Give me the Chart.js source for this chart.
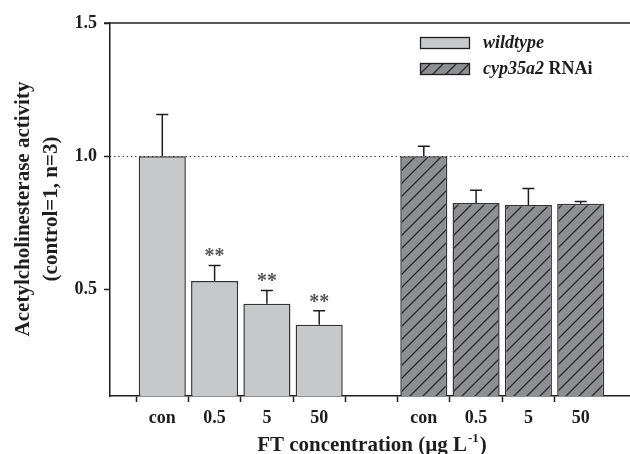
<!DOCTYPE html>
<html>
<head>
<meta charset="utf-8">
<script src="https://cdn.jsdelivr.net/npm/chart.js@4"></script>
<style>
html, body { margin: 0; padding: 0; overflow: hidden; background: #fff; }
canvas { display: block; }
</style>
</head>
<body>
<canvas id="chart" width="640" height="454"></canvas>
<script>
const doseLabels = ["con", "0.5", "5", "50"];
const wildtypeValues = [1.0, 0.532, 0.446, 0.367];
const wildtypeErrors = [0.157, 0.058, 0.050, 0.053];
const rnaiValues = [1.0, 0.824, 0.817, 0.822];
const rnaiErrors = [0.037, 0.048, 0.062, 0.008];
const wildtypeStars = ["", "**", "**", "**"];
const yTicks = [0.5, 1.0, 1.5];

const SERIF = "'Liberation Serif', 'Times New Roman', serif";
const INK = "#1e1e1e";

// slots: empty edge | wildtype group | gap | rnai group | empty edge
const labels = ["", ...doseLabels, "", ...doseLabels, ""];
const blank4 = [null, null, null, null];
const wildtypeData = [null, ...wildtypeValues, null, ...blank4, null];
const rnaiData = [null, ...blank4, null, ...rnaiValues, null];
const wildtypeErr = [null, ...wildtypeErrors, null, ...blank4, null];
const rnaiErr = [null, ...blank4, null, ...rnaiErrors, null];
const starData = [null, ...wildtypeStars, null, ...blank4, null];

function hatch(bg, line, size) {
    let c = document.createElement("canvas");
    c.width = size; c.height = size;
    let g = c.getContext("2d");
    g.fillStyle = bg;
    g.fillRect(0, 0, size, size);
    g.strokeStyle = line;
    g.lineWidth = 1.3;
    g.beginPath();
    g.moveTo(-1, size + 1); g.lineTo(size + 1, -1);
    g.moveTo(-2, 2); g.lineTo(2, -2);
    g.moveTo(size - 2, size + 2); g.lineTo(size + 2, size - 2);
    g.stroke();
    return g.createPattern(c, "repeat");
}

const wildFill = "#c7c8ca";
const rnaiFill = hatch("#8e8f92", "#2a2a2a", 13);

const extras = {
    id: "extras",
    beforeDatasetsDraw(chart) {
        const { ctx, chartArea, scales } = chart;
        let y = Math.round(scales.y.getPixelForValue(1.0)) + 0.5;
        ctx.save();
        ctx.setLineDash([1.2, 3]);
        ctx.strokeStyle = INK;
        ctx.lineWidth = 1.2;
        ctx.beginPath();
        ctx.moveTo(chartArea.left, y);
        ctx.lineTo(chartArea.right, y);
        ctx.stroke();
        ctx.restore();
    },
    afterDatasetsDraw(chart) {
        const { ctx, scales } = chart;
        ctx.save();
        ctx.strokeStyle = INK;
        ctx.lineWidth = 1.5;
        chart.data.datasets.forEach((ds, d) => {
            let meta = chart.getDatasetMeta(d);
            ds.data.forEach((v, i) => {
                if (v === null) return;
                let bar = meta.data[i];
                let top = scales.y.getPixelForValue(v + ds.errors[i]);
                ctx.beginPath();
                ctx.moveTo(bar.x, bar.y);
                ctx.lineTo(bar.x, top);
                ctx.moveTo(bar.x - 6, top);
                ctx.lineTo(bar.x + 6, top);
                ctx.stroke();
                if (ds.stars && ds.stars[i]) {
                    ctx.fillStyle = "#555";
                    ctx.font = "bold 20px " + SERIF;
                    ctx.textAlign = "center";
                    ctx.textBaseline = "alphabetic";
                    ctx.fillText(ds.stars[i], bar.x, top - 3);
                }
            });
        });
        ctx.restore();
    },
    afterDraw(chart) {
        const { ctx, chartArea } = chart;
        ctx.save();
        // top frame line
        ctx.strokeStyle = INK;
        ctx.lineWidth = 1.5;
        ctx.beginPath();
        ctx.moveTo(chartArea.left - 6, chartArea.top);
        ctx.lineTo(chartArea.right, chartArea.top);
        ctx.stroke();

        ctx.fillStyle = INK;

        // x title with superscript
        ctx.textBaseline = "alphabetic";
        ctx.textAlign = "left";
        let main = "FT concentration (\u00b5g L";
        let sup = "-1";
        let tail = ")";
        ctx.font = "bold 21px " + SERIF;
        let wMain = ctx.measureText(main).width;
        let wTail = ctx.measureText(tail).width;
        ctx.font = "bold 13px " + SERIF;
        let wSup = ctx.measureText(sup).width;
        let x0 = 371 - (wMain + wSup + wTail) / 2;
        let base = 451;
        ctx.font = "bold 21px " + SERIF;
        ctx.fillText(main, x0, base);
        ctx.font = "bold 13px " + SERIF;
        ctx.fillText(sup, x0 + wMain + 1, base - 9);
        ctx.font = "bold 21px " + SERIF;
        ctx.fillText(tail, x0 + wMain + wSup + 2, base);

        // y title, two lines
        ctx.save();
        ctx.translate(0, 209);
        ctx.rotate(-Math.PI / 2);
        ctx.textAlign = "center";
        ctx.textBaseline = "middle";
        ctx.font = "bold 21px " + SERIF;
        ctx.fillText("Acetylcholinesterase activity", 0, 24);
        ctx.fillText("(control=1, n=3)", 0, 52);
        ctx.restore();

        // legend
        let items = [
            { fill: wildFill, y: 37.5, parts: [["italic bold", "wildtype"]] },
            { fill: rnaiFill, y: 63.5, parts: [["italic bold", "cyp35a2 "], ["bold", "RNAi"]] }
        ];
        items.forEach(it => {
            ctx.fillStyle = it.fill;
            ctx.fillRect(420.5, it.y, 49, 11);
            ctx.strokeStyle = INK;
            ctx.lineWidth = 1.3;
            ctx.strokeRect(420.5, it.y, 49, 11);
            let tx = 483;
            ctx.fillStyle = INK;
            ctx.textAlign = "left";
            ctx.textBaseline = "middle";
            it.parts.forEach(p => {
                ctx.font = p[0] + " 18px " + SERIF;
                ctx.fillText(p[1], tx, it.y + 6);
                tx += ctx.measureText(p[1]).width;
            });
        });
        ctx.restore();
    }
};

const hideEdge = c => (c.index === 0 || c.index === labels.length - 1) ? "rgba(0,0,0,0)" : INK;

new Chart(document.getElementById("chart"), {
    type: "bar",
    data: {
        labels: labels,
        datasets: [
            {
                label: "wildtype",
                data: wildtypeData,
                errors: wildtypeErr,
                stars: starData,
                backgroundColor: wildFill,
                borderColor: "#333",
                borderWidth: 1.5,
                borderSkipped: false,
                grouped: false,
                categoryPercentage: 1.0,
                barPercentage: 0.9
            },
            {
                label: "cyp35a2 RNAi",
                data: rnaiData,
                errors: rnaiErr,
                backgroundColor: rnaiFill,
                borderColor: "#333",
                borderWidth: 1.5,
                borderSkipped: false,
                grouped: false,
                categoryPercentage: 1.0,
                barPercentage: 0.9
            }
        ]
    },
    options: {
        responsive: false,
        animation: false,
        layout: { padding: { top: 23, right: 7, left: 0, bottom: 0 } },
        plugins: { legend: { display: false }, tooltip: { enabled: false } },
        scales: {
            x: {
                offset: false,
                afterFit: s => { s.height = 58; },
                border: { display: true, color: INK, width: 1.5 },
                grid: {
                    display: true,
                    drawOnChartArea: false,
                    drawTicks: true,
                    tickLength: 6,
                    tickWidth: 1.5,
                    tickColor: hideEdge,
                    color: hideEdge
                },
                ticks: {
                    autoSkip: false,
                    maxRotation: 0,
                    padding: 6,
                    color: INK,
                    font: { family: SERIF, size: 18, weight: "bold" }
                }
            },
            y: {
                min: 0.1,
                max: 1.5,
                afterFit: s => { s.width = 110; },
                afterBuildTicks: s => { s.ticks = yTicks.map(v => ({ value: v })); },
                border: { display: true, color: INK, width: 1.5 },
                grid: {
                    display: true,
                    drawOnChartArea: false,
                    drawTicks: true,
                    tickLength: 6,
                    tickWidth: 1.5,
                    tickColor: INK,
                    color: INK
                },
                ticks: {
                    padding: 7,
                    color: INK,
                    callback: v => Number(v).toFixed(1),
                    font: { family: SERIF, size: 18, weight: "bold" }
                }
            }
        }
    },
    plugins: [extras]
});
</script>
</body>
</html>
